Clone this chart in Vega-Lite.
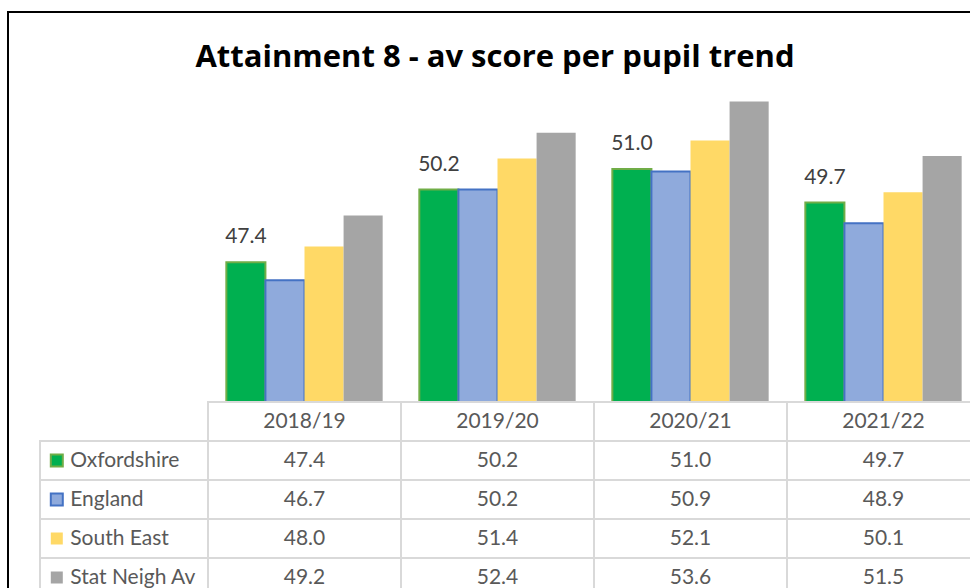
{
  "$schema": "https://vega.github.io/schema/vega-lite/v6.json",
  "autosize": {"type": "none"},
  "width": 980,
  "height": 600,
  "padding": {"left": 8, "top": 12, "right": -18, "bottom": -24},
  "background": "white",
  "view": {"stroke": "#000000", "strokeWidth": 2},
  "config": {"font": "Lato"},
  "title": {
    "text": "Attainment 8 - av score per pupil trend",
    "orient": "top",
    "anchor": "middle",
    "frame": "group",
    "offset": -86,
    "baseline": "alphabetic",
    "dx": -3,
    "fontSize": 31,
    "fontWeight": "bold",
    "color": "#000000",
    "font": "Open Sans"
  },
  "datasets": {
    "scores": [
      {"year": "2018/19", "series": "Oxfordshire", "value": 47.4},
      {"year": "2018/19", "series": "England", "value": 46.7},
      {"year": "2018/19", "series": "South East", "value": 48.0},
      {"year": "2018/19", "series": "Stat Neigh Av", "value": 49.2},
      {"year": "2019/20", "series": "Oxfordshire", "value": 50.2},
      {"year": "2019/20", "series": "England", "value": 50.2},
      {"year": "2019/20", "series": "South East", "value": 51.4},
      {"year": "2019/20", "series": "Stat Neigh Av", "value": 52.4},
      {"year": "2020/21", "series": "Oxfordshire", "value": 51.0},
      {"year": "2020/21", "series": "England", "value": 50.9},
      {"year": "2020/21", "series": "South East", "value": 52.1},
      {"year": "2020/21", "series": "Stat Neigh Av", "value": 53.6},
      {"year": "2021/22", "series": "Oxfordshire", "value": 49.7},
      {"year": "2021/22", "series": "England", "value": 48.9},
      {"year": "2021/22", "series": "South East", "value": 50.1},
      {"year": "2021/22", "series": "Stat Neigh Av", "value": 51.5}
    ],
    "years": [
      {"year": "2018/19"},
      {"year": "2019/20"},
      {"year": "2020/21"},
      {"year": "2021/22"}
    ],
    "areas": [
      {"series": "Oxfordshire"},
      {"series": "England"},
      {"series": "South East"},
      {"series": "Stat Neigh Av"}
    ]
  },
  "layer": [
    {
      "data": {"name": "scores"},
      "layer": [
        {
          "mark": {"type": "bar", "strokeWidth": 2},
          "encoding": {
            "x": {"field": "year", "type": "nominal", "sort": null, "axis": null,
                  "scale": {"domain": ["2018/19", "2019/20", "2020/21", "2021/22"], "range": [200, 972], "paddingInner": 0.19, "paddingOuter": 0.095}},
            "xOffset": {"field": "series", "type": "nominal",
                  "scale": {"domain": ["Oxfordshire", "England", "South East", "Stat Neigh Av"], "paddingInner": 0, "paddingOuter": 0}},
            "y": {"field": "value", "type": "quantitative", "axis": null,
                  "scale": {"domain": [42, 54], "range": [390, 79.2], "zero": false, "nice": false}},
            "y2": {"datum": 42},
            "fill": {"field": "series", "type": "nominal", "legend": null,
                  "scale": {"domain": ["Oxfordshire", "England", "South East", "Stat Neigh Av"], "range": ["#00B050", "#8FAADC", "#FFD966", "#A5A5A5"]}},
            "stroke": {"field": "series", "type": "nominal", "legend": null,
                  "scale": {"domain": ["Oxfordshire", "England", "South East", "Stat Neigh Av"], "range": ["#70AD47", "#4472C4", "transparent", "transparent"]}}
          }
        },
        {
          "transform": [{"filter": "datum.series == 'Oxfordshire'"}],
          "mark": {"type": "text", "dy": -19, "baseline": "alphabetic", "fontSize": 21, "color": "#404040", "font": "Lato"},
          "encoding": {
            "x": {"field": "year", "type": "nominal", "sort": null, "axis": null},
            "xOffset": {"field": "series", "type": "nominal"},
            "y": {"field": "value", "type": "quantitative", "axis": null},
            "text": {"field": "value", "type": "quantitative", "format": ".1f"}
          }
        }
      ]
    },
    {
      "layer": [
        {
          "data": {"name": "scores"},
          "mark": {"type": "rect", "fill": "white", "stroke": "#d9d9d9", "strokeWidth": 2},
          "encoding": {
            "x": {"field": "year", "type": "nominal", "axis": null,
                  "scale": {"domain": ["2018/19", "2019/20", "2020/21", "2021/22"], "range": [200, 972], "paddingInner": 0, "paddingOuter": 0}},
            "y": {"field": "series", "type": "nominal", "axis": null,
                  "scale": {"domain": ["hdr", "Oxfordshire", "England", "South East", "Stat Neigh Av"], "range": [390, 585], "paddingInner": 0, "paddingOuter": 0}}
          }
        },
        {
          "data": {"name": "years"},
          "mark": {"type": "rect", "fill": "white", "stroke": "#d9d9d9", "strokeWidth": 2},
          "encoding": {
            "x": {"field": "year", "type": "nominal", "axis": null},
            "y": {"datum": "hdr", "type": "nominal", "axis": null}
          }
        },
        {
          "data": {"name": "scores"},
          "mark": {"type": "text", "fontSize": 21, "color": "#595959", "baseline": "middle", "font": "Lato"},
          "encoding": {
            "x": {"field": "year", "type": "nominal", "axis": null},
            "y": {"field": "series", "type": "nominal", "axis": null},
            "text": {"field": "value", "type": "quantitative", "format": ".1f"}
          }
        },
        {
          "data": {"name": "years"},
          "mark": {"type": "text", "fontSize": 21, "color": "#595959", "baseline": "middle", "font": "Lato"},
          "encoding": {
            "x": {"field": "year", "type": "nominal", "axis": null},
            "y": {"datum": "hdr", "type": "nominal", "axis": null},
            "text": {"field": "year", "type": "nominal"}
          }
        }
      ]
    },
    {
      "data": {"name": "areas"},
      "layer": [
        {
          "mark": {"type": "rect", "fill": "white", "stroke": "#d9d9d9", "strokeWidth": 2},
          "encoding": {
            "x": {"datum": 0, "type": "quantitative", "axis": null,
                  "scale": {"domain": [0, 1], "range": [32, 200], "zero": false, "nice": false}},
            "x2": {"datum": 1},
            "y": {"field": "series", "type": "nominal", "axis": null,
                  "scale": {"domain": ["hdr", "Oxfordshire", "England", "South East", "Stat Neigh Av"], "range": [390, 585], "paddingInner": 0, "paddingOuter": 0}}
          }
        },
        {
          "mark": {"type": "point", "shape": "square", "filled": true, "size": 144, "strokeWidth": 2, "opacity": 1},
          "encoding": {
            "x": {"datum": 0.1, "type": "quantitative", "axis": null},
            "y": {"field": "series", "type": "nominal", "axis": null},
            "fill": {"field": "series", "type": "nominal", "legend": null},
            "stroke": {"field": "series", "type": "nominal", "legend": null}
          }
        },
        {
          "mark": {"type": "text", "align": "left", "baseline": "middle", "fontSize": 21, "color": "#595959", "font": "Lato"},
          "encoding": {
            "x": {"datum": 0.18, "type": "quantitative", "axis": null},
            "y": {"field": "series", "type": "nominal", "axis": null},
            "text": {"field": "series", "type": "nominal"}
          }
        }
      ]
    }
  ],
  "resolve": {"scale": {"x": "independent", "y": "independent"}}
}
